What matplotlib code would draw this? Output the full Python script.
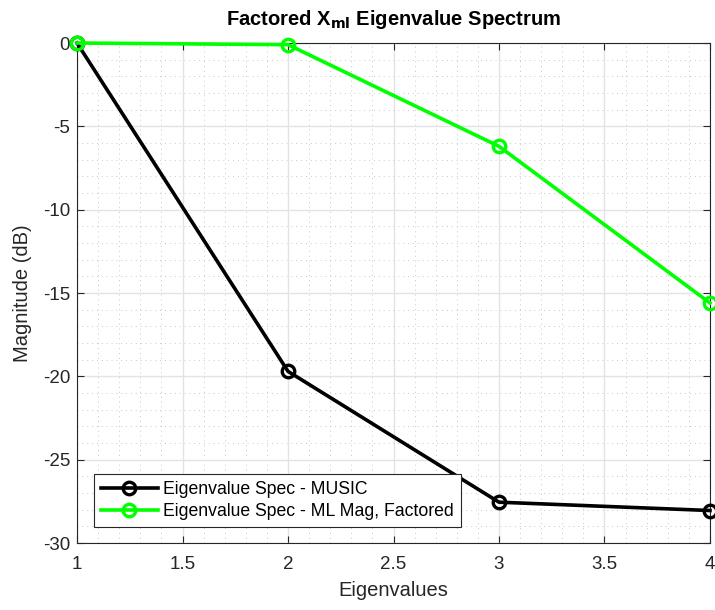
import matplotlib
matplotlib.use('Agg')
import matplotlib.pyplot as plt
from matplotlib.ticker import MultipleLocator

plt.rcParams['font.family'] = ['Liberation Sans', 'DejaVu Sans']

eig_idx = [1, 2, 3, 4]
music_db = [0.0, -19.7, -27.55, -28.05]
ml_db = [0.0, -0.1, -6.2, -15.6]

fig = plt.figure(figsize=(7.15, 6.1), dpi=100)
ax = fig.add_axes([0.1077, 0.1098, 0.8853, 0.8197])

ax.plot(eig_idx, music_db, '-o', color='black', lw=2.6, ms=9, mew=2.4,
        mfc='none', label='Eigenvalue Spec - MUSIC', clip_on=False, zorder=3)
ax.plot(eig_idx, ml_db, '-o', color='#00ff00', lw=2.6, ms=9, mew=2.4,
        mfc='none', label='Eigenvalue Spec - ML Mag, Factored', clip_on=False, zorder=3)

ax.set_xlim(1, 4)
ax.set_ylim(-30, 0)
ax.xaxis.set_major_locator(MultipleLocator(0.5))
ax.xaxis.set_minor_locator(MultipleLocator(0.1))
ax.yaxis.set_major_locator(MultipleLocator(5))
ax.yaxis.set_minor_locator(MultipleLocator(1))
ax.xaxis.set_major_formatter(matplotlib.ticker.FuncFormatter(lambda v, p: '%g' % v))
ax.yaxis.set_major_formatter(matplotlib.ticker.FuncFormatter(lambda v, p: '%g' % v))

ax.grid(which='major', color='#e3e3e3', lw=1.0, ls='-')
ax.grid(which='minor', color='#c8c8c8', lw=0.7, ls=(0, (1, 4)))
ax.set_axisbelow(True)

ax.tick_params(which='major', direction='in', length=5, width=0.8, colors='#262626',
               labelsize=13.5, top=True, right=True)
ax.tick_params(axis='x', which='major', pad=9)
ax.tick_params(axis='y', which='major', pad=5)
ax.tick_params(which='minor', length=0)
for s in ax.spines.values():
    s.set_color('#262626')
    s.set_linewidth(0.8)

ax.set_xlabel('Eigenvalues', fontsize=14.5, color='#262626', labelpad=6)
ax.set_ylabel('Magnitude (dB)', fontsize=14.5, color='#262626', labelpad=8)
ax.set_title(r'Factored X$_{\mathbf{ml}}$ Eigenvalue Spectrum', fontsize=14.5,
             fontweight='bold', pad=13)

leg = ax.legend(loc='lower left', bbox_to_anchor=(0.027, 0.032), fontsize=12.7,
                fancybox=False, framealpha=1, edgecolor='#262626',
                handlelength=3.2, borderpad=0.4, borderaxespad=0,
                labelspacing=0.3, handletextpad=0.3)
leg.get_frame().set_linewidth(0.8)

fig.savefig('out.png', dpi=100)
